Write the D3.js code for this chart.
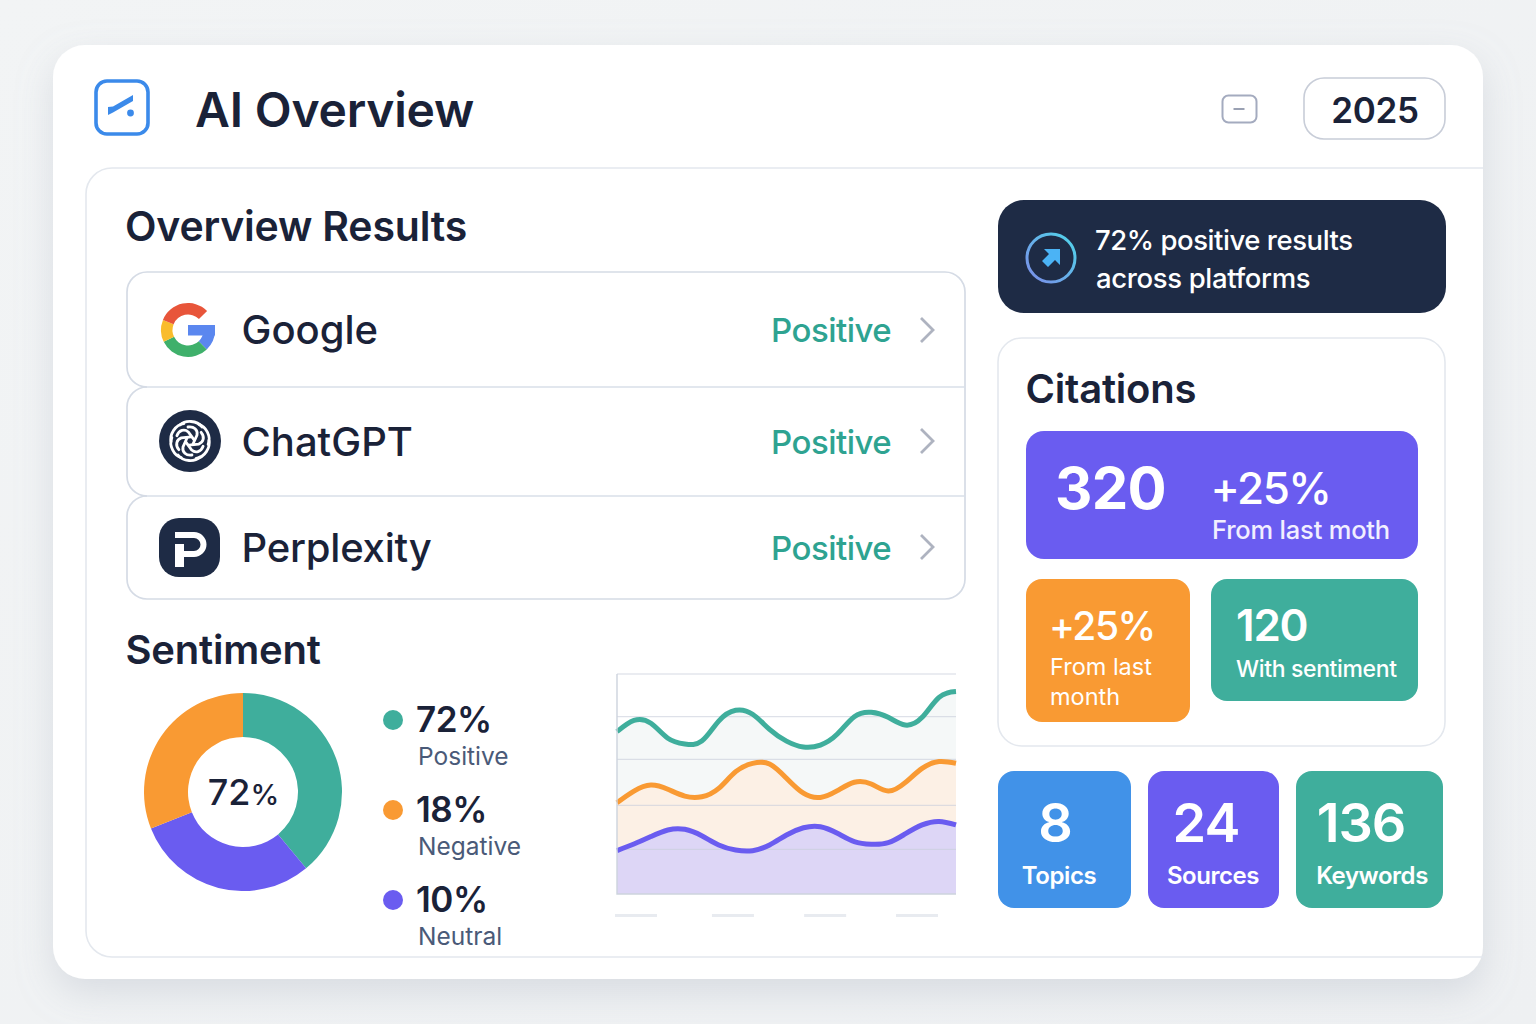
<!DOCTYPE html>
<html lang="en"><head><meta charset="utf-8"><title>AI Overview</title>
<script src="https://cdnjs.cloudflare.com/ajax/libs/d3/7.9.0/d3.min.js"></script>
<style>html,body{margin:0;padding:0;background:#f1f3f5}svg{display:block}text{font-family:Inter,"Noto Sans",sans-serif}</style>
</head><body><svg id="c" width="1536" height="1024" viewBox="0 0 1536 1024"></svg>
<script>
// ---- data ----
const platforms = ["Google", "ChatGPT", "Perplexity"];
const platformStatus = ["Positive", "Positive", "Positive"];
const donutSlices = [39, 30, 31];
const legendPct = ["72%", "18%", "10%"];
const legendLabels = ["Positive", "Negative", "Neutral"];
const gridValues = [20.3, 40.3, 61.2, 80.6];
const xTickValues = [5.6, 34.2, 61.4, 88.5];
const xGrid = [0, 5, 10, 15, 20, 25, 30, 35, 40, 45, 50, 55, 60, 65, 70, 75, 80, 85, 90, 95, 100];
const tealY = [73.8, 78.9, 77.6, 70.8, 68.2, 69.5, 78.6, 83.5, 81.7, 74.8, 69.5, 66.8, 67.7, 72.7, 80.6, 82.6, 80.3, 76.8, 80.3, 89.4, 92.0];
const orangeY = [41.5, 46.8, 49.5, 47.6, 44.5, 44.2, 48.0, 55.6, 59.4, 59.1, 52.6, 45.8, 43.9, 47.0, 50.8, 50.0, 46.8, 50.6, 57.1, 60.2, 59.4];
const purpleY = [19.7, 22.7, 26.1, 29.1, 29.4, 26.5, 22.3, 20.0, 19.7, 22.3, 26.8, 30.1, 30.6, 27.6, 23.8, 22.6, 23.3, 27.3, 31.4, 33.0, 31.4];
// ---- styling ----
const INK = "#1a2238", TEAL = "#3fae9c", ORANGE = "#f99a33", PURPLE = "#6a5cf0", BLUE = "#4192e8", NAVY = "#1e2b45";
const svg = d3.select("#c");
const defs = svg.append("defs");
const bg = defs.append("linearGradient").attr("id","bg").attr("x1",0).attr("y1",0).attr("x2",1).attr("y2",1);
bg.append("stop").attr("offset",0).attr("stop-color","#f2f4f5");
bg.append("stop").attr("offset",1).attr("stop-color","#eef0f2");
const ringG = defs.append("linearGradient").attr("id","ring").attr("x1",0).attr("y1",1).attr("x2",1).attr("y2",0);
ringG.append("stop").attr("offset",0).attr("stop-color","#7c8be8");
ringG.append("stop").attr("offset",1).attr("stop-color","#4fd6ea");
const sh = defs.append("filter").attr("id","sh").attr("x","-10%").attr("y","-10%").attr("width","120%").attr("height","125%");
sh.append("feDropShadow").attr("dx",0).attr("dy",14).attr("stdDeviation",18).attr("flood-color","#9aa4b4").attr("flood-opacity",0.28);

const T = (x,y,s,size,weight,fill,anchor,ls) => svg.append("text").attr("x",x).attr("y",y).attr("font-size",size)
  .attr("font-weight",weight).attr("fill",fill||INK).attr("text-anchor",anchor||"start").attr("letter-spacing",ls||0).text(s);
const R = (x,y,w,h,r,fill,stroke,sw) => svg.append("rect").attr("x",x).attr("y",y).attr("width",w).attr("height",h)
  .attr("rx",r).attr("fill",fill).attr("stroke",stroke||"none").attr("stroke-width",sw||0);

R(0,0,1536,1024,0,"url(#bg)");
R(53,45,1430,934,32,"#ffffff").attr("filter","url(#sh)");

// header
R(96,81,52,53,11,"#fff","#3b8aea",3.6);
svg.append("path").attr("d","M108 107 L108 115 L113 112.5 L133 101 L133 95 L113 106.5 Z").attr("fill","#3b8aea");
svg.append("circle").attr("cx",130.5).attr("cy",113).attr("r",3.4).attr("fill","#3b8aea");
T(195,127,"AI Overview",48,600,INK,"start",-0.2);
R(1222.5,95.5,34,27,6,"#fff","#a4abbf",2);
svg.append("line").attr("x1",1233.5).attr("x2",1244.5).attr("y1",109).attr("y2",109).attr("stroke","#9aa1b3").attr("stroke-width",2);
R(1304,78,141,61,20,"#fff","#c8cdd8",1.6);
T(1375,123,"2025",35,600,INK,"middle",-0.3);

// main panel outline
svg.append("path").attr("d","M1483 168 H112 A26 26 0 0 0 86 194 V931 A26 26 0 0 0 112 957 H1483")
  .attr("fill","none").attr("stroke","#e4e8ee").attr("stroke-width",1.6);

T(125,241,"Overview Results",41,600,INK,"start",-0.2);

// rows
const rowTops = [272, 387, 496], rowBots = [387, 496, 599], textY = [344, 456, 562], chevY = [330, 441, 547];
const rr = 20, rowL = 127, rowR = 965;
svg.append("path").attr("d",`M${rowL+rr} ${rowTops[0]} H${rowR-rr} A${rr} ${rr} 0 0 1 ${rowR} ${rowTops[0]+rr} V${rowBots[2]-rr} A${rr} ${rr} 0 0 1 ${rowR-rr} ${rowBots[2]} H${rowL+rr}`)
  .attr("fill","none").attr("stroke","#d5dbe5").attr("stroke-width",1.7);
rowTops.forEach((t,i) => {
  const b = rowBots[i];
  svg.append("path").attr("d",`M${rowL+rr} ${b} A${rr} ${rr} 0 0 1 ${rowL} ${b-rr} V${t+rr} A${rr} ${rr} 0 0 1 ${rowL+rr} ${t}`)
    .attr("fill","none").attr("stroke","#d5dbe5").attr("stroke-width",1.7);
  if (i > 0) svg.append("line").attr("x1",rowL+rr).attr("x2",rowR).attr("y1",t).attr("y2",t).attr("stroke","#d9dfe8").attr("stroke-width",1.4);
  T(241.5,textY[i],platforms[i],40,500,INK,"start",i===2?-0.2:0);
  T(771,textY[i]-2.5,platformStatus[i],33,500,"#2ea391","start",-0.5);
  svg.append("path").attr("d",`M921 ${chevY[i]-12} L933 ${chevY[i]} L921 ${chevY[i]+12}`)
    .attr("fill","none").attr("stroke","#aeb3c0").attr("stroke-width",2.8);
});

// Google mark
const deg = Math.PI/180;
const gArc = d3.arc().innerRadius(15.5).outerRadius(27);
const gMark = svg.append("g").attr("transform","translate(188,330)");
[["#5b87ef",90,136],["#3fb06b",136,244],["#f9bc2c",244,292],["#e8553a",292,405]].forEach(s =>
  gMark.append("path").attr("d",gArc({startAngle:s[1]*deg,endAngle:s[2]*deg})).attr("fill",s[0]));
gMark.append("rect").attr("x",0).attr("y",-5).attr("width",27).attr("height",10.5).attr("fill","#5b87ef");

// ChatGPT mark
svg.append("circle").attr("cx",190).attr("cy",441).attr("r",31).attr("fill",NAVY);
const knot = svg.append("g").attr("transform","translate(190,441)");
d3.range(6).forEach(i => knot.append("path")
  .attr("d","M-10 -16 C-5 -21 7 -21 12 -14 M-2 -14 C4 -15 8 -11 7 -6 L3 3")
  .attr("transform",`rotate(${i*60})`).attr("fill","none").attr("stroke","#fff").attr("stroke-width",2.8).attr("stroke-linecap","round"));

// Perplexity mark
R(159,518,61,59,20,NAVY);
svg.append("path").attr("d","M175 535 H194 A9.5 9.5 0 0 1 194 554 H180")
  .attr("fill","none").attr("stroke","#fff").attr("stroke-width",6);
svg.append("rect").attr("x",175).attr("y",544).attr("width",9).attr("height",23).attr("fill","#fff");

// Sentiment donut
T(125.5,664,"Sentiment",40,600,INK,"start",-0.2);
const pie = d3.pie().sort(null)(donutSlices);
const arc = d3.arc().innerRadius(55).outerRadius(99);
const donut = svg.append("g").attr("transform","translate(243,792)");
const donutCols = [TEAL, PURPLE, ORANGE];
donut.selectAll("path").data(pie).join("path").attr("d",arc).attr("fill",(d,i)=>donutCols[i]);
const center = T(243.5,805,"",36,500,INK,"middle");
center.append("tspan").text("72");
center.append("tspan").attr("font-size",29).text("%");

// legend
const dotCols = [TEAL, ORANGE, PURPLE], dotY = [720, 810, 900];
legendPct.forEach((p,i) => {
  svg.append("circle").attr("cx",393).attr("cy",dotY[i]).attr("r",10).attr("fill",dotCols[i]);
  T(416,dotY[i]+12,p,35,600,INK,"start",-0.5);
  T(418,dotY[i]+44.5,legendLabels[i],24.5,400,"#4a5a78");
});

// area chart
const x = d3.scaleLinear().domain([0,100]).range([617,956]);
const y = d3.scaleLinear().domain([0,100]).range([894,674]);
const chart = svg.append("g");
const curve = d3.curveNatural;
const areaG = d3.area().x(d=>x(d[0])).y0(y(0)).y1(d=>y(d[1])).curve(curve);
const lineG = d3.line().x(d=>x(d[0])).y(d=>y(d[1])).curve(curve);
const series = [
  {ys:tealY, c:TEAL, f:"#f5f8f8"},
  {ys:orangeY, c:ORANGE, f:"#fcf0e5"},
  {ys:purpleY, c:PURPLE, f:"#ddd6f6"}];
series.forEach(s => { s.pts = xGrid.map((v,i)=>[v,s.ys[i]]);
  chart.append("path").attr("d",areaG(s.pts)).attr("fill",s.f); });
chart.append("g").selectAll("line").data(gridValues).join("line")
  .attr("x1",x(0)).attr("x2",x(100)).attr("y1",d=>y(d)).attr("y2",d=>y(d))
  .attr("stroke","#c8cdda").attr("stroke-opacity",0.6).attr("stroke-width",1.2);
series.forEach(s => chart.append("path").attr("d",lineG(s.pts)).attr("fill","none")
  .attr("stroke",s.c).attr("stroke-width",5));
chart.append("line").attr("x1",x(0)).attr("x2",x(100)).attr("y1",y(100)).attr("y2",y(100)).attr("stroke","#e3e6ec").attr("stroke-width",1.4);
chart.append("path").attr("d",`M${x(0)} ${y(100)} V${y(0)} H${x(100)}`).attr("fill","none").attr("stroke","#cdd3dd").attr("stroke-width",1.4);
chart.append("g").selectAll("rect").data(xTickValues).join("rect")
  .attr("x",d=>x(d)-21).attr("y",914).attr("width",42).attr("height",3).attr("fill","#e8ebf0");

// callout
R(998,200,448,113,26,NAVY);
svg.append("circle").attr("cx",1051).attr("cy",258).attr("r",24).attr("fill","none").attr("stroke","url(#ring)").attr("stroke-width",3);
svg.append("path").attr("d","M1044 249 H1060 V265 L1055 260 L1048 267 L1042 261 L1049 254 Z").attr("fill","#4bb3f5");
T(1095,250,"72% positive results",27.5,500,"#fff","start",-0.45);
T(1096,288,"across platforms",27.5,500,"#fff","start",-0.35);

// citations
R(998,338,447,408,24,"#fff","#e4e8ee",1.6);
T(1025.5,403,"Citations",40,600,INK,"start",-0.2);
R(1026,431,392,128,18,PURPLE);
T(1055,509,"320",58,700,"#fff","start",-0.7);
T(1210.5,504,"+25%",44,500,"#fff","start",-1.5);
T(1212,539,"From last moth",25.5,500,"#f1efff","start",-0.2);
R(1026,579,164,143,16,ORANGE);
T(1049,640,"+25%",39,500,"#fff","start",-1.5);
T(1050,675,"From last",23.5,400,"#fff");
T(1050,705,"month",23.5,400,"#fff");
R(1211,579,207,122,16,TEAL);
T(1236,641,"120",44,600,"#fff","start",-1.2);
T(1236,677,"With sentiment",23,500,"#fff","start",-0.35);

// stat tiles
const tileX=[998,1148,1296], tileW=[133,131,147], tileC=[BLUE,PURPLE,TEAL];
const tileNum=["8","24","136"], tileLab=["Topics","Sources","Keywords"], numX=[1055,1206,1361], labX=[1059,1213,1372];
tileX.forEach((tx,i)=>{
  R(tx,771,tileW[i],137,16,tileC[i]);
  T(numX[i],842,tileNum[i],54,600,"#fff","middle",-1);
  T(labX[i],884,tileLab[i],24,600,"#fff","middle",-0.45);
});
</script></body></html>
